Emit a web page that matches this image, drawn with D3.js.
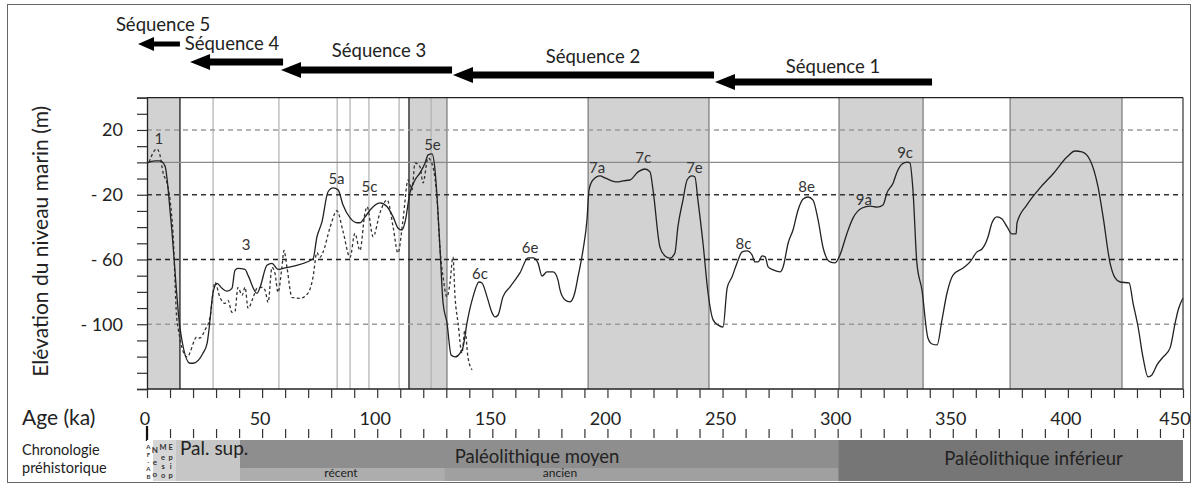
<!DOCTYPE html>
<html><head><meta charset="utf-8">
<script src="https://cdn.jsdelivr.net/npm/d3@7"></script>
<style>
html,body{margin:0;padding:0;background:#fff;}
svg{display:block;font-family:Lato,"Open Sans",sans-serif;}
</style></head>
<body>
<svg id="chart" width="1198" height="486"></svg>
<script>
// ---------------- DATA ----------------
// main sea-level curve (solid)
const solidAge = [0,3.5,5.6,7.8,10.4,14.3,18.7,20.0,24.3,26.1,26.9,28.7,30.4,32.6,34.8,36.9,38.2,39.5,42.6,43.9,47.8,49.1,52.1,54.3,56.9,59.1,72.1,73.8,76.0,78.6,80.8,83.0,85.1,88.2,91.2,92.5,94.7,96.9,101.2,104.3,106.9,109.0,110.8,112.1,114.2,116.4,118.6,120.8,122.1,123.8,125.1,126.0,127.3,128.6,130.3,132.1,133.8,136.0,137.3,139.0,141.6,144.2,145.5,147.7,149.9,151.2,152.5,154.6,157.7,162.0,165.5,167.7,169.8,171.6,173.7,176.4,178.5,179.4,181.6,183.7,185.9,187.2,189.4,191.1,192.0,193.7,196.8,198.9,204.2,206.8,209.8,213.3,216.3,218.5,219.8,222.8,225.0,227.2,229.3,230.6,232.8,234.6,236.7,238.0,239.3,241.5,243.7,245.9,248.0,250.2,252.0,254.1,256.3,258.5,260.6,262.8,264.1,265.4,267.2,268.5,269.8,272.0,275.0,276.3,278.5,280.6,282.8,285.0,287.1,289.3,291.5,293.7,296.7,298.9,301.0,304.1,306.7,310.6,314.1,317.1,319.7,321.4,324.1,325.8,328.0,330.2,331.4,332.7,334.4,336.6,339.2,341.0,343.2,345.3,347.5,350.1,354.5,357.5,360.5,362.7,365.3,367.0,369.2,371.4,373.6,375.7,377.5,377.9,382.2,387.9,393.5,399.6,403.1,406.1,409.6,413.1,415.3,418.3,420.5,422.7,426.6,428.3,430.5,432.6,434.8,436.5,438.7,441.4,444.4,446.6,447.9,450];
const solidLevel = [-0.4,0.9,0.9,-2.2,-35.8,-101.9,-124.1,-124.1,-117.9,-111.8,-103.7,-80.3,-74.7,-77.8,-79.6,-77.8,-66.7,-65.5,-66.1,-69.8,-80.9,-77.2,-63.6,-62.4,-66.1,-65.5,-59.7,-46.1,-36.8,-18.3,-15.8,-17.0,-26.2,-34.3,-37.3,-37.3,-33.7,-29.4,-25.0,-27.4,-33.7,-40.5,-41.8,-36.8,-18.9,-10.9,-6.5,-0.4,4.6,5.2,-4.7,-21.4,-54.1,-86.9,-99.2,-119,-120.2,-117.8,-114,-99.2,-83.1,-73.9,-74.5,-83.1,-93.0,-95.5,-94.3,-83.1,-76.9,-68.3,-59.0,-59.0,-62.1,-70.2,-67.7,-67.7,-72.6,-78.8,-85.0,-86.2,-80.1,-70.8,-54.1,-35.6,-17.0,-10.9,-8.4,-9.6,-12.1,-11.4,-10.9,-5.9,-4.1,-5.9,-17.0,-52.3,-57.8,-59.1,-56.0,-39.9,-23.3,-10.9,-8.4,-9.0,-23.3,-49.8,-80.7,-97.3,-100.4,-101.7,-77.6,-70.8,-62.1,-55.3,-54.7,-57.2,-61.5,-61.5,-57.8,-58.4,-64.6,-66.4,-67.7,-64.6,-49.8,-41.8,-29.4,-22.6,-21.4,-23.3,-35.6,-52.9,-61.5,-62.1,-57.2,-43.6,-34.3,-28.2,-27.0,-27.6,-26.3,-18.9,-12.7,-5.9,-1.0,0.2,-0.4,-17.0,-62.1,-78.8,-108.5,-112.2,-112.8,-97.3,-80.7,-69.6,-65.2,-61.5,-55.3,-53.5,-46.1,-37.4,-33.7,-35.0,-39.9,-44.2,-44.2,-37.4,-26.3,-15.8,-7.2,3.3,7.0,6.4,1.5,-15.2,-33.7,-62.1,-71.4,-73.9,-74.5,-86.9,-101.7,-120.2,-132.5,-131.3,-125.1,-120.2,-114.6,-99.2,-91.2,-83.8];

// alternative curve (dashed), last 140 ka
const dashedAge = [0.9,4.3,5.6,7.0,8.7,10.0,11.3,13.0,17.4,21.7,23.0,25.2,27.4,28.7,29.5,31.7,33.9,35.2,36.9,38.2,39.5,41.3,42.6,43.9,46.0,47.8,50.0,51.3,52.6,54.3,55.6,56.9,58.6,59.5,60.8,63.0,66.5,69.9,72.1,73.8,75.1,76.4,79.5,82.5,85.1,88.2,90.3,92.5,94.7,95.6,98.2,101.2,104.3,106.9,109.0,111.2,113.4,115.1,116.4,118.6,119.9,122.1,124.2,126.0,127.3,128.6,130.3,131.6,132.9,133.8,135.1,136.8,138.1,139.4,141.2];
const dashedLevel = [0.2,8.3,4.6,-6.5,-12.7,-23.2,-43.5,-97.3,-120.2,-107.8,-108.5,-103.5,-95.5,-80.3,-74.1,-83.4,-87.1,-85.3,-92.7,-92.1,-77.2,-82.1,-77.2,-90.2,-83.9,-77.8,-77.2,-79.0,-86.5,-64.9,-68.6,-80.3,-64.9,-54.4,-64.9,-83.4,-84.0,-80.9,-71.1,-55.7,-58.7,-55.7,-40.3,-29.9,-42.3,-58.7,-43.9,-54.4,-31.1,-27.4,-45.9,-31.1,-23.2,-39.8,-56.0,-35.6,-10.9,-17.0,-0.4,-2.8,-12.7,2.7,-2.8,-23.2,-54.1,-70.8,-83.1,-74.5,-58.4,-83.1,-99.2,-117.8,-103.5,-120.2,-128.2];

// isotope stage labels
const stageNames = ["1","3","5a","5c","5e","6c","6e","7a","7c","7e","8c","8e","9a","9c"];
const stageAge   = [5.2,43,82.3,96.6,124,144.6,166.4,195.5,215.5,237.8,259.1,286.5,311.4,329.3];
const stageLevel = [14.4,-51,-10.2,-14.9,10.7,-68.6,-52.6,-3.2,2.7,-3.2,-50,-14.9,-22.9,6.1];

// interglacial shaded bands (ka)
const bandStart = [0,113.8,191.6,300.6,374.9];
const bandEnd   = [14.3,130.3,244.1,337.1,423.5];
// thin vertical reference lines (ka)
const refLines = [28.7,57.3,82.6,88.2,96.4,109.5,123.4];

// sequences (arrows from older to younger)
const seqNames = ["Séquence 5","Séquence 4","Séquence 3","Séquence 2","Séquence 1"];
const seqFrom  = [14.3,59.1,132.5,246.3,341];
const seqTo    = [-3.9,18.7,58.2,132.9,246.7];
const seqLabelAge = [7,36.9,100.8,193.7,298];

// axis ticks
const yLabelTicks = [20,-20,-60,-100];
const xLabelTicks = [0,50,100,150,200,250,300,350,400,450];

// prehistoric chronology
const chronoNames = ["","","Pal. sup.","Paléolithique moyen","Paléolithique inférieur"];
const chronoStart = [0,2.6,12.6,40.4,300.2];
const chronoEnd   = [2.6,12.6,40.4,300.2,450];
const subNames = ["récent","ancien"];
const subStart = [40.4,129.4];
const subEnd   = [129.4,300.2];

// ---------------- DRAWING ----------------
const svg = d3.select("#chart");
const x = d3.scaleLinear().domain([0,450]).range([147,1183]);
const y = d3.scaleLinear().domain([40,-140]).range([97.6,389]);
const pTop = y(40), pBot = y(-140);

// outer frame
svg.append("rect").attr("x",7.5).attr("y",4.5).attr("width",1183).attr("height",478)
  .attr("fill","none").attr("stroke","#666").attr("stroke-width",1);

// shaded bands
svg.append("g").selectAll("rect").data(bandStart).join("rect")
  .attr("x",(d)=>x(d)).attr("y",pTop).attr("width",(d,i)=>x(bandEnd[i])-x(d)).attr("height",pBot-pTop)
  .attr("fill","#d2d2d2");
// band edges
const edges = [];
bandStart.forEach((d,i)=>{ if(d>0) edges.push(d); edges.push(bandEnd[i]); });
svg.append("g").selectAll("line").data(edges).join("line")
  .attr("x1",d=>x(d)).attr("x2",d=>x(d)).attr("y1",pTop).attr("y2",pBot)
  .attr("stroke",(d)=> (d===14.3||d===113.8)?"#444":"#777").attr("stroke-width",(d)=>(d===14.3||d===113.8)?1.6:1.2);
// reference lines
svg.append("g").selectAll("line").data(refLines).join("line")
  .attr("x1",d=>x(d)).attr("x2",d=>x(d)).attr("y1",pTop).attr("y2",pBot)
  .attr("stroke","#b0b0b0").attr("stroke-width",1.2);

// horizontal grid lines
const grid = [{v:20,c:"#9a9a9a",dash:"5,4"},{v:0,c:"#8a8a8a",dash:null},{v:-20,c:"#333",dash:"5,4"},{v:-60,c:"#222",dash:"5,4"},{v:-100,c:"#9a9a9a",dash:"5,4"}];
svg.append("g").selectAll("line").data(grid).join("line")
  .attr("x1",x(0)).attr("x2",x(450)).attr("y1",d=>y(d.v)).attr("y2",d=>y(d.v))
  .attr("stroke",d=>d.c).attr("stroke-width",1.3).attr("stroke-dasharray",d=>d.dash);

// curves
const line = d3.line().x(d=>x(d[0])).y(d=>y(d[1])).curve(d3.curveMonotoneX);
svg.append("path").datum(dashedAge.map((a,i)=>[a,dashedLevel[i]]))
  .attr("d",line).attr("fill","none").attr("stroke","#333").attr("stroke-width",1.3).attr("stroke-dasharray","3,2.5");
svg.append("path").datum(solidAge.map((a,i)=>[a,solidLevel[i]]))
  .attr("d",line).attr("fill","none").attr("stroke","#222").attr("stroke-width",1.3);

// stage labels
svg.append("g").selectAll("text").data(stageNames).join("text")
  .attr("x",(d,i)=>x(stageAge[i])).attr("y",(d,i)=>y(stageLevel[i])).attr("dy","0.36em")
  .attr("text-anchor","middle").attr("font-size",15).attr("fill","#333").text(d=>d);

// plot frame
svg.append("line").attr("x1",x(0)).attr("x2",x(450)).attr("y1",pTop).attr("y2",pTop).attr("stroke","#222").attr("stroke-width",1.3);
svg.append("line").attr("x1",x(0)).attr("x2",x(450)).attr("y1",pBot).attr("y2",pBot).attr("stroke","#222").attr("stroke-width",1.3);
svg.append("line").attr("x1",x(450)).attr("x2",x(450)).attr("y1",pTop).attr("y2",pBot).attr("stroke","#333").attr("stroke-width",1.2);

// y axis
const yAxis = d3.axisLeft(y).tickValues(d3.range(40,-141,-10)).tickSize(10).tickPadding(14)
  .tickFormat(d=> yLabelTicks.includes(d) ? (d<0?"- "+Math.abs(d):String(d)) : "");
const gy = svg.append("g").attr("transform",`translate(${x(0)},0)`).call(yAxis);
gy.select(".domain").attr("stroke","#222").attr("stroke-width",1.3);
gy.selectAll(".tick line").attr("stroke","#333").attr("stroke-width",1.2);
gy.selectAll("text").attr("font-size",18).attr("fill","#222").attr("font-family","Lato,sans-serif");

svg.append("text").attr("transform",`translate(48,${(pTop+pBot)/2-2}) rotate(-90)`)
  .attr("text-anchor","middle").attr("font-size",21).attr("fill","#222").text("Elévation du niveau marin (m)");

// x axis (two tick rows)
const xAxis1 = d3.axisBottom(x).tickValues(d3.range(0,451,10)).tickSize(9).tickFormat("");
const gx1 = svg.append("g").attr("transform",`translate(0,${pBot})`).call(xAxis1);
gx1.select(".domain").remove();
gx1.selectAll(".tick line").attr("stroke","#333").attr("stroke-width",1.2);
const xAxis2 = d3.axisBottom(x).tickValues(d3.range(0,451,10)).tickSize(9).tickFormat("");
const gx2 = svg.append("g").attr("transform",`translate(0,429)`).call(xAxis2);
gx2.select(".domain").remove();
gx2.selectAll(".tick line").attr("stroke","#333").attr("stroke-width",1.2);
svg.append("line").attr("x1",x(0)).attr("x2",x(0)).attr("y1",426).attr("y2",441).attr("stroke","#111").attr("stroke-width",2.2);
svg.append("g").selectAll("text").data(xLabelTicks).join("text")
  .attr("x",d=>x(d)-(d===450?8:2)).attr("y",425).attr("text-anchor","middle").attr("font-size",18).attr("fill","#222").text(d=>d);
svg.append("text").attr("x",22).attr("y",425).attr("font-size",21).attr("fill","#222").text("Age (ka)");

// sequence arrows
const arrowY = [44,62,70,75,82];
const seqLabelY = [31,50,57,63,73];
seqNames.forEach((n,i)=>{
  const x0 = x(seqFrom[i]), x1 = x(seqTo[i]), yy = arrowY[i];
  const th = i===0?5:7, hl = i===0?16:20, hh = i===0?7:8;
  svg.append("path").attr("d",
    `M${x1},${yy} L${x1+hl},${yy-hh} L${x1+hl},${yy-th/2} L${x0},${yy-th/2} L${x0},${yy+th/2} L${x1+hl},${yy+th/2} L${x1+hl},${yy+hh} Z`)
    .attr("fill","#000");
  svg.append("text").attr("x",x(seqLabelAge[i])).attr("y",seqLabelY[i]).attr("text-anchor","middle")
    .attr("font-size",18.5).attr("fill","#222").text(n);
});

// chronology band
const cTop = 440, cBot = 481, cMid = 468;
const chronoFill = ["#ffffff","#d6d6d6","#c6c6c6","#8e8e8e","#767676"];
svg.append("g").selectAll("rect").data(chronoStart).join("rect")
  .attr("x",d=>x(d)).attr("y",cTop).attr("width",(d,i)=>x(chronoEnd[i])-x(d)).attr("height",cBot-cTop)
  .attr("fill",(d,i)=>chronoFill[i]);
const subFill = ["#adadad","#a0a0a0"];
svg.append("g").selectAll("rect").data(subStart).join("rect")
  .attr("x",d=>x(d)).attr("y",cMid).attr("width",(d,i)=>x(subEnd[i])-x(d)).attr("height",cBot-cMid)
  .attr("fill",(d,i)=>subFill[i]);
svg.append("text").attr("x",x(12.6)+4).attr("y",455).attr("font-size",19).attr("fill","#222").text(chronoNames[2]);
svg.append("text").attr("x",(x(40.4)+x(300.2))/2-2).attr("y",463).attr("text-anchor","middle").attr("font-size",18.5).attr("fill","#222").text(chronoNames[3]);
svg.append("text").attr("x",(x(300.2)+x(450))/2+23).attr("y",465).attr("text-anchor","middle").attr("font-size",18.5).attr("fill","#222").text(chronoNames[4]);
svg.append("g").selectAll("text").data(subNames).join("text")
  .attr("x",(d,i)=> i===0? 341 : 560).attr("y",477).attr("text-anchor","middle").attr("font-size",12).attr("fill","#222").text(d=>d);
// tiny vertical labels
const tiny = [{t:["A","F","-","A","B"],a:0.6,fs:6},{t:["N","e","o"],a:3.4,fs:8},{t:["M","e","s","o"],a:7,fs:7.5},{t:["E","p","i","p"],a:10.3,fs:7.5}];
tiny.forEach(c=>{
  const n=c.t.length, step=(cBot-cTop-4)/n;
  c.t.forEach((ch,k)=>{
    svg.append("text").attr("x",x(c.a)).attr("y",cTop+4+step*(k+0.7)).attr("text-anchor","middle")
      .attr("font-size",c.fs).attr("font-weight","bold").attr("fill","#333").text(ch);
  });
});
svg.append("text").attr("x",22).attr("y",455).attr("font-size",14.5).attr("fill","#222").text("Chronologie");
svg.append("text").attr("x",22).attr("y",473).attr("font-size",14.5).attr("fill","#222").text("préhistorique");
</script>
</body></html>
